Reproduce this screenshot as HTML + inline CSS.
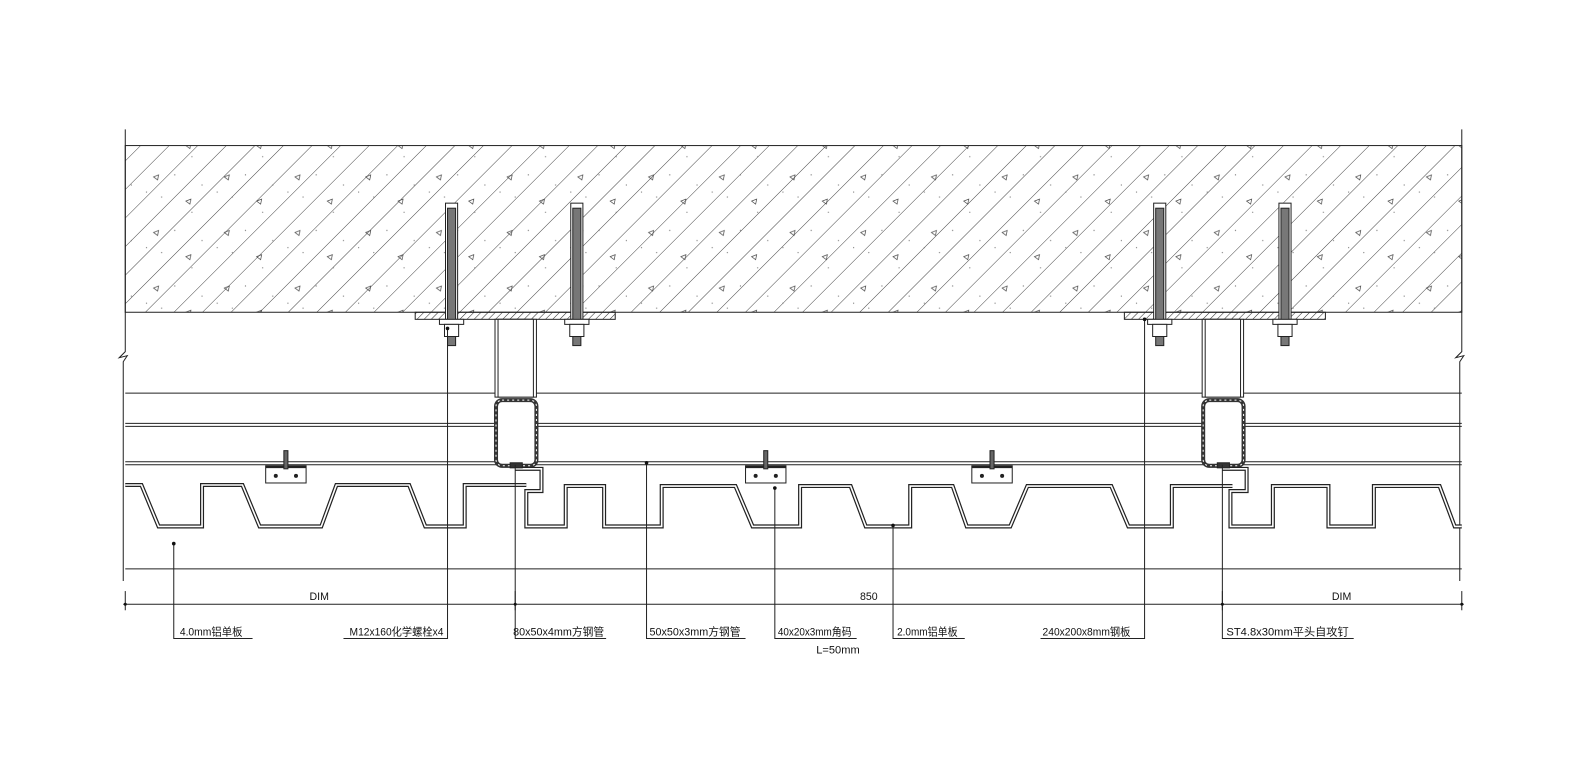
<!DOCTYPE html>
<html><head><meta charset="utf-8"><style>
html,body{margin:0;padding:0;background:#fff;}
svg{display:block}
text{font-family:"Liberation Sans","Noto Sans CJK SC",sans-serif;fill:#111;}
</style></head><body>
<svg width="1582" height="772" viewBox="0 0 1566 764" xmlns="http://www.w3.org/2000/svg">
<defs>
<pattern id="h" patternUnits="userSpaceOnUse" width="20" height="20" patternTransform="rotate(45)">
<line x1="0" y1="0" x2="0" y2="20" stroke="#333" stroke-width="0.9"/>
</pattern>
<pattern id="ph" patternUnits="userSpaceOnUse" width="5" height="5" patternTransform="rotate(45)">
<line x1="0" y1="0" x2="0" y2="5" stroke="#222" stroke-width="1"/>
</pattern>
<pattern id="dots" patternUnits="userSpaceOnUse" width="70" height="55">
<path d="M12 10 l5 -2 l-1 5z M44 34 l5 -2 l-1 5z" fill="none" stroke="#444" stroke-width="0.7"/>
<circle cx="5" cy="25" r="0.6" fill="#777"/><circle cx="33" cy="8" r="0.6" fill="#777"/><circle cx="50" cy="45" r="0.6" fill="#777"/><circle cx="20" cy="30" r="0.6" fill="#777"/><circle cx="60" cy="18" r="0.6" fill="#777"/>
</pattern>
</defs>
<rect x="124" y="144" width="1323" height="165" fill="url(#h)"/>
<rect x="124" y="144" width="1323" height="165" fill="url(#dots)"/>
<rect x="124" y="144" width="1323" height="165" fill="none" stroke="#222" stroke-width="1"/>
<g stroke="#222" stroke-width="1" fill="none">
<path d="M124 128 V348 L118 354 L126 352 L122 358 V575"/>
<path d="M1447 128 V348 L1441 354 L1449 352 L1445 358 V575"/>
<line x1="124" y1="389" x2="1447" y2="389"/>
<line x1="124" y1="419" x2="1447" y2="419"/><line x1="124" y1="422" x2="1447" y2="422"/>
<line x1="124" y1="457" x2="1447" y2="457"/><line x1="124" y1="460" x2="1447" y2="460"/>
<line x1="124" y1="563" x2="1447" y2="563"/>
</g>
<rect x="411" y="309" width="198" height="7" fill="url(#ph)" stroke="#222"/>
<rect x="1113" y="309" width="199" height="7" fill="url(#ph)" stroke="#222"/>
<g fill="#fff" stroke="#222" stroke-width="1">
<rect x="490" y="316" width="41" height="77"/><rect x="493" y="316" width="35" height="77"/>
<rect x="1190" y="316" width="41" height="77"/><rect x="1193" y="316" width="35" height="77"/>
</g>
<g fill="#fff" stroke="#333" stroke-width="4">
<rect x="491" y="396" width="40" height="65" rx="6"/>
<rect x="1191" y="396" width="40" height="65" rx="6"/>
</g>
<g fill="none" stroke="#fff" stroke-width="1" stroke-dasharray="2 3">
<rect x="491" y="396" width="40" height="65" rx="6"/>
<rect x="1191" y="396" width="40" height="65" rx="6"/>
</g>
<g stroke="#222" fill="#fff" stroke-width="1">
<rect x="441" y="201" width="12" height="115"/>
<rect x="443" y="206" width="8" height="136" fill="#777"/>
<rect x="435" y="316" width="24" height="5"/>
<rect x="440" y="321" width="14" height="12"/>
<rect x="565" y="201" width="12" height="115"/>
<rect x="567" y="206" width="8" height="136" fill="#777"/>
<rect x="559" y="316" width="24" height="5"/>
<rect x="564" y="321" width="14" height="12"/>
<rect x="1142" y="201" width="12" height="115"/>
<rect x="1144" y="206" width="8" height="136" fill="#777"/>
<rect x="1136" y="316" width="24" height="5"/>
<rect x="1141" y="321" width="14" height="12"/>
<rect x="1266" y="201" width="12" height="115"/>
<rect x="1268" y="206" width="8" height="136" fill="#777"/>
<rect x="1260" y="316" width="24" height="5"/>
<rect x="1265" y="321" width="14" height="12"/>
</g>
<g fill="none" stroke-linejoin="miter">
<g stroke="#222" stroke-width="4">
<polyline points="124,480 140,480 157,521 200,521 200,480 240,480 257,521 318,521 333,480 405,480 421,521 460,521 460,480 521,480"/>
<polyline points="510,464 536,464 536,486 521,486 521,521 560,521 560,481 598,481 598,521 655,521 655,481 728,481 745,521 792,521 792,481 842,481 857,521 901,521 901,481 943,481 957,521 1000,521 1017,481 1100,481 1117,521 1160,521 1160,481 1220,481"/>
<polyline points="1210,464 1234,464 1234,486 1218,486 1218,521 1260,521 1260,481 1315,481 1315,521 1360,521 1360,481 1425,481 1440,521 1447,521"/>
</g>
<g stroke="#fff" stroke-width="1.6">
<polyline points="124,480 140,480 157,521 200,521 200,480 240,480 257,521 318,521 333,480 405,480 421,521 460,521 460,480 521,480"/>
<polyline points="510,464 536,464 536,486 521,486 521,521 560,521 560,481 598,481 598,521 655,521 655,481 728,481 745,521 792,521 792,481 842,481 857,521 901,521 901,481 943,481 957,521 1000,521 1017,481 1100,481 1117,521 1160,521 1160,481 1220,481"/>
<polyline points="1210,464 1234,464 1234,486 1218,486 1218,521 1260,521 1260,481 1315,481 1315,521 1360,521 1360,481 1425,481 1440,521 1447,521"/>
</g>
</g>
<g stroke="#222" stroke-width="1" fill="#fff">
<rect x="263" y="461" width="40" height="17"/><line x1="263" y1="462" x2="303" y2="462" stroke-width="2.5"/>
<rect x="281" y="446" width="4" height="18" fill="#666"/>
<rect x="738" y="461" width="40" height="17"/><line x1="738" y1="462" x2="778" y2="462" stroke-width="2.5"/>
<rect x="756" y="446" width="4" height="18" fill="#666"/>
<rect x="962" y="461" width="40" height="17"/><line x1="962" y1="462" x2="1002" y2="462" stroke-width="2.5"/>
<rect x="980" y="446" width="4" height="18" fill="#666"/>
<rect x="505" y="458" width="12" height="5" fill="#333"/>
<rect x="1205" y="458" width="12" height="5" fill="#333"/>
</g>
<g fill="#222">
<circle cx="273" cy="471" r="2"/><circle cx="293" cy="471" r="2"/>
<circle cx="748" cy="471" r="2"/><circle cx="768" cy="471" r="2"/>
<circle cx="972" cy="471" r="2"/><circle cx="992" cy="471" r="2"/>
</g>
<g stroke="#222" stroke-width="1" fill="none">
<line x1="122" y1="598" x2="1449" y2="598"/>
<line x1="124" y1="585" x2="124" y2="604"/><line x1="510" y1="585" x2="510" y2="604"/>
<line x1="1210" y1="585" x2="1210" y2="604"/><line x1="1447" y1="585" x2="1447" y2="604"/>
<polyline points="172,538 172,632 250,632"/>
<polyline points="443,325 443,632 340,632"/>
<polyline points="510,460 510,632 600,632"/>
<polyline points="640,458 640,632 738,632"/>
<polyline points="767,483 767,632 848,632"/>
<polyline points="884,520 884,632 955,632"/>
<polyline points="1133,316 1133,632 1030,632"/>
<polyline points="1210,460 1210,632 1340,632"/>
</g>
<g fill="#111">
<circle cx="172" cy="538" r="1.8"/><circle cx="443" cy="325" r="1.8"/><circle cx="640" cy="458" r="1.8"/>
<circle cx="767" cy="483" r="1.8"/><circle cx="884" cy="520" r="1.8"/><circle cx="1133" cy="316" r="1.8"/>
<circle cx="124" cy="598" r="1.5"/><circle cx="510" cy="598" r="1.5"/><circle cx="1210" cy="598" r="1.5"/><circle cx="1447" cy="598" r="1.5"/>
</g>
<g font-size="10.5">
<text x="316" y="594" text-anchor="middle">DIM</text>
<text x="860" y="594" text-anchor="middle">850</text>
<text x="1328" y="594" text-anchor="middle">DIM</text>
<text x="178" y="629" textLength="62" lengthAdjust="spacingAndGlyphs">4.0mm铝单板</text>
<text x="346" y="629" textLength="93" lengthAdjust="spacingAndGlyphs">M12x160化学螺栓x4</text>
<text x="508" y="629" textLength="90" lengthAdjust="spacingAndGlyphs">80x50x4mm方钢管</text>
<text x="643" y="629" textLength="90" lengthAdjust="spacingAndGlyphs">50x50x3mm方钢管</text>
<text x="770" y="629" textLength="73" lengthAdjust="spacingAndGlyphs">40x20x3mm角码</text>
<text x="808" y="647" textLength="43" lengthAdjust="spacingAndGlyphs">L=50mm</text>
<text x="888" y="629" textLength="60" lengthAdjust="spacingAndGlyphs">2.0mm铝单板</text>
<text x="1032" y="629" textLength="87" lengthAdjust="spacingAndGlyphs">240x200x8mm钢板</text>
<text x="1214" y="629" textLength="121" lengthAdjust="spacingAndGlyphs">ST4.8x30mm平头自攻钉</text>
</g>
</svg>
</body></html>
